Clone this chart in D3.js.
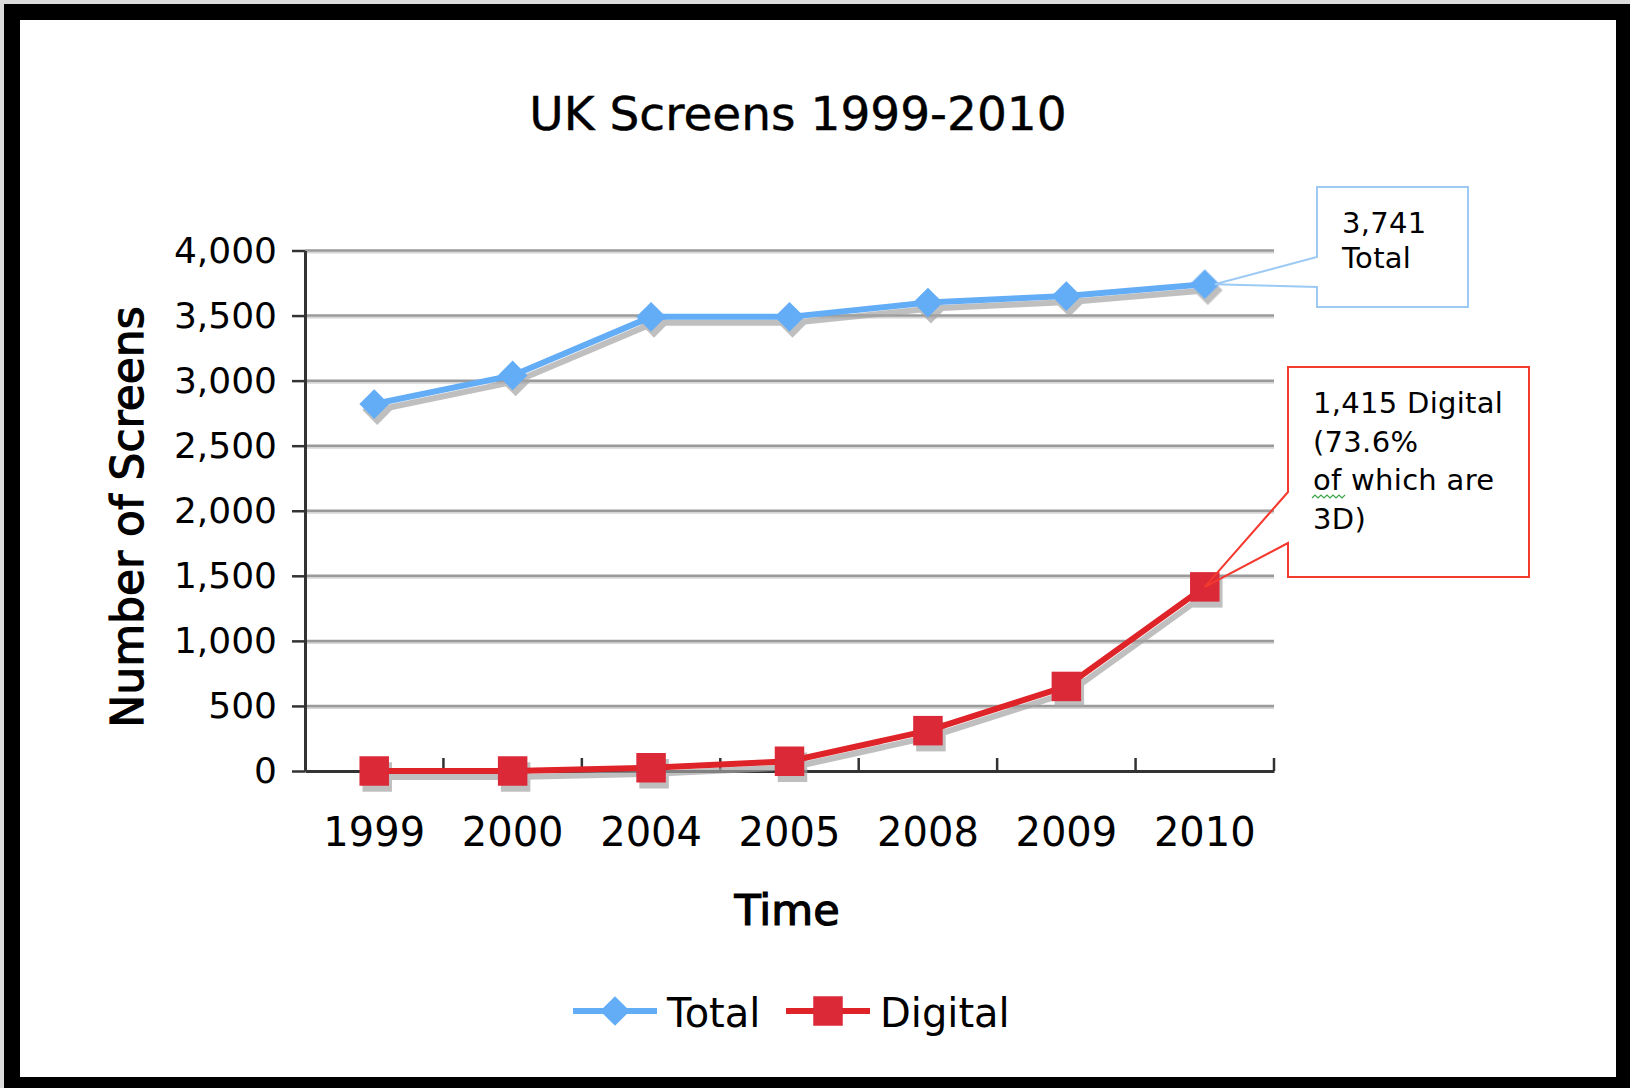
<!DOCTYPE html>
<html>
<head>
<meta charset="utf-8">
<script src="https://cdn.jsdelivr.net/npm/d3@7"></script>
<style>
  html, body { margin: 0; padding: 0; background: #dcdcdc; }
  svg { display: block; font-family: "DejaVu Sans", sans-serif; }
</style>
</head>
<body>
<div id="chart"></div>
<script>
// Data
const years = ["1999", "2000", "2004", "2005", "2008", "2009", "2010"];
const totalScreens = [2820, 3040, 3490, 3490, 3600, 3650, 3741];
const digitalScreens = [0, 0, 25, 75, 310, 650, 1415];
const yTicks = [0, 500, 1000, 1500, 2000, 2500, 3000, 3500, 4000];
const seriesNames = ["Total", "Digital"];
const totalNote = ["3,741", "Total"];
const digitalNote = ["1,415 Digital", "(73.6%", "of which are", "3D)"];

//Width and height
var w = 1630;
var h = 1088;
var plotLeft = 305, plotRight = 1274, plotTop = 250.5, plotBottom = 771;

var blue = "#63acf6";
var red = "#df2429";
var redMarker = "#dc2937";

var svg = d3.select("#chart")
    .append("svg")
    .attr("width", w)
    .attr("height", h);

//Frame
svg.append("rect").attr("width", w).attr("height", h).attr("fill", "#dcdcdc");
svg.append("rect").attr("x", 4).attr("y", 4).attr("width", w - 4).attr("height", h - 4).attr("fill", "#000");
svg.append("rect").attr("x", 20).attr("y", 20).attr("width", 1596).attr("height", 1057).attr("fill", "#fff");

//Scales
var x = d3.scaleBand()
    .domain(years)
    .range([plotLeft, plotRight])
    .padding(0);

var y = d3.scaleLinear()
    .domain([0, 4000])
    .range([plotBottom, plotTop]);

var cx = d => x(d) + x.bandwidth() / 2;

//Title
svg.append("text")
    .attr("x", 798)
    .attr("y", 130)
    .attr("text-anchor", "middle")
    .style("font-size", "47px")
    .attr("stroke", "#000")
    .attr("stroke-width", 0.4)
    .text("UK Screens 1999-2010");

//Gridlines
var grid = svg.append("g");
grid.selectAll("line.shadow")
    .data(yTicks.filter(d => d > 0))
    .join("line")
    .attr("class", "shadow")
    .attr("x1", plotLeft).attr("x2", plotRight)
    .attr("y1", d => y(d) + 2).attr("y2", d => y(d) + 2)
    .attr("stroke", "#d6d6d6")
    .attr("stroke-width", 2);
grid.selectAll("line.main")
    .data(yTicks.filter(d => d > 0))
    .join("line")
    .attr("class", "main")
    .attr("x1", plotLeft).attr("x2", plotRight)
    .attr("y1", d => y(d)).attr("y2", d => y(d))
    .attr("stroke", "#9a9a9a")
    .attr("stroke-width", 2.5);

//Y axis
var yAxis = svg.append("g")
    .attr("transform", `translate(${plotLeft},0)`)
    .call(d3.axisLeft(y).tickValues(yTicks).tickFormat(d3.format(",")).tickSize(13).tickSizeOuter(0).tickPadding(15));
yAxis.select(".domain").attr("stroke", "#333").attr("stroke-width", 3);
yAxis.selectAll(".tick line").attr("stroke", "#333").attr("stroke-width", 2.5);
yAxis.selectAll("text").style("font-size", "36px").attr("fill", "#000").attr("font-family", "DejaVu Sans");

//X axis
var xAxis = svg.append("g")
    .attr("transform", `translate(0,${plotBottom})`)
    .call(d3.axisBottom(x).tickSize(0).tickPadding(47));
xAxis.select(".domain").attr("stroke", "#333").attr("stroke-width", 3);
xAxis.selectAll("text").style("font-size", "40px").attr("fill", "#000").attr("font-family", "DejaVu Sans");

//Category boundary ticks pointing up
xAxis.selectAll("line.bound")
    .data(years.slice(1).map(d => x(d)).concat([plotRight]))
    .join("line")
    .attr("class", "bound")
    .attr("x1", d => d).attr("x2", d => d)
    .attr("y1", 0).attr("y2", -13)
    .attr("stroke", "#333")
    .attr("stroke-width", 2.5);

//Axis titles
svg.append("text")
    .attr("transform", "translate(143,517) rotate(-90)")
    .attr("text-anchor", "middle")
    .style("font-size", "44px")
    .attr("stroke", "#000")
    .attr("stroke-width", 1.2)
    .text("Number of Screens");

svg.append("text")
    .attr("x", 787)
    .attr("y", 925)
    .attr("text-anchor", "middle")
    .style("font-size", "43px")
    .attr("stroke", "#000")
    .attr("stroke-width", 1.2)
    .text("Time");

//Series
var line = d3.line()
    .x(d => cx(d.year))
    .y(d => y(d.value));

var diamond = d3.symbol(d3.symbolSquare, 440);
var square = d3.symbol(d3.symbolSquare, 870);

function drawSeries(values, color, markerColor, shape, rot) {
    var data = years.map((yr, i) => ({ year: yr, value: values[i] }));

    //shadow
    var sh = svg.append("g").attr("transform", "translate(3,6)").attr("opacity", 0.7);
    sh.append("path")
        .datum(data)
        .attr("d", line)
        .attr("fill", "none")
        .attr("stroke", "#a4a4a4")
        .attr("stroke-width", 6)
        .attr("stroke-linejoin", "round");
    sh.selectAll("path.m")
        .data(data)
        .join("path")
        .attr("class", "m")
        .attr("d", shape)
        .attr("transform", d => `translate(${cx(d.year)},${y(d.value)}) rotate(${rot})`)
        .attr("fill", "#a4a4a4");

    //line and markers
    var g = svg.append("g");
    g.append("path")
        .datum(data)
        .attr("d", line)
        .attr("fill", "none")
        .attr("stroke", color)
        .attr("stroke-width", 6)
        .attr("stroke-linejoin", "round");
    g.selectAll("path.m")
        .data(data)
        .join("path")
        .attr("class", "m")
        .attr("d", shape)
        .attr("transform", d => `translate(${cx(d.year)},${y(d.value)}) rotate(${rot})`)
        .attr("fill", markerColor);
}

drawSeries(totalScreens, blue, blue, diamond, 45);
drawSeries(digitalScreens, red, redMarker, square, 0);

//Callouts
function callout(box, tipX, tipY, wedgeTop, wedgeBottom, color, lines, tx, ty0, lh) {
    svg.append("rect")
        .attr("x", box[0]).attr("y", box[1])
        .attr("width", box[2] - box[0]).attr("height", box[3] - box[1])
        .attr("fill", "#fff");
    var p = d3.path();
    p.moveTo(box[0], wedgeTop);
    p.lineTo(box[0], box[1]);
    p.lineTo(box[2], box[1]);
    p.lineTo(box[2], box[3]);
    p.lineTo(box[0], box[3]);
    p.lineTo(box[0], wedgeBottom);
    p.lineTo(tipX, tipY);
    p.closePath();
    svg.append("path")
        .attr("d", p.toString())
        .attr("fill", "none")
        .attr("stroke", color)
        .attr("stroke-width", 2);
    svg.append("g")
        .selectAll("text")
        .data(lines)
        .join("text")
        .attr("x", tx)
        .attr("y", (d, i) => ty0 + i * lh)
        .style("font-size", "29px")
        .style("letter-spacing", "0.3px")
        .text(d => d);
}

var last = years.length - 1;
callout([1317, 187, 1468, 307], cx(years[last]) + 10, y(totalScreens[last]),
    257, 287, "#9ccaf5", totalNote, 1342, 233, 35);
callout([1288, 367, 1529, 577], cx(years[last]), y(digitalScreens[last]),
    492, 543, "#f4392e", digitalNote, 1313, 413, 38.5);

//spell-check squiggle under "of"
var sq = d3.path();
sq.moveTo(1312, 498);
for (var i = 1; i <= 11; i++) sq.lineTo(1312 + i * 3, i % 2 ? 495 : 498);
svg.append("path").attr("d", sq.toString()).attr("fill", "none").attr("stroke", "#3aa34a").attr("stroke-width", 1.2);

//Legend
var legend = svg.append("g");
var legendItems = [
    { name: seriesNames[0], x0: 573, color: blue, marker: blue, shape: diamond, rot: 45 },
    { name: seriesNames[1], x0: 786, color: red, marker: redMarker, shape: square, rot: 0 }
];
var li = legend.selectAll("g")
    .data(legendItems)
    .join("g")
    .attr("transform", d => `translate(${d.x0},1011)`);
li.append("line")
    .attr("x1", 0).attr("x2", 84)
    .attr("stroke", d => d.color)
    .attr("stroke-width", 6);
li.append("path")
    .attr("d", d => d.shape())
    .attr("transform", d => `translate(42,0) rotate(${d.rot})`)
    .attr("fill", d => d.marker);
li.append("text")
    .attr("x", 94)
    .attr("y", 16)
    .style("font-size", "40px")
    .text(d => d.name);
</script>
</body>
</html>
